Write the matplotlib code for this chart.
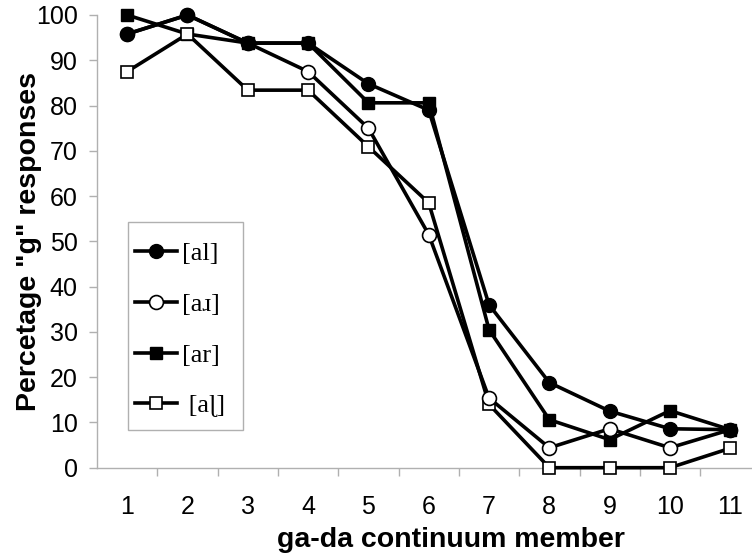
import numpy as np
import matplotlib
matplotlib.use("Agg")
import matplotlib.pyplot as plt
from matplotlib.patches import Rectangle

# ------------------------------
# Данные
# ------------------------------
members = np.arange(1, 12)
al_vals = [95.8, 100, 93.8, 93.8, 84.8, 79.0, 36.0, 18.8, 12.5, 8.6, 8.4]
ar_retro_vals = [95.8, 100, 93.8, 87.5, 75.0, 51.5, 15.4, 4.4, 8.6, 4.4, 8.4]
ar_vals = [100, 95.8, 93.8, 93.8, 80.6, 80.6, 30.5, 10.6, 6.2, 12.6, 8.4]
al_retro_vals = [87.5, 95.8, 83.4, 83.4, 70.9, 58.5, 14.0, 0, 0, 0, 4.3]
labels = ["[al]", "[a\u0279]", "[ar]", " [a\u026d]"]

plt.rcParams['font.family'] = ['Liberation Sans', 'DejaVu Sans']

W, H = 752, 556
fig = plt.figure(figsize=(W / 100, H / 100), dpi=100)
ax = fig.add_axes([97 / W, 88.3 / H, (W - 97) / W, (467.7 - 15) / H])

lw = 2.6
h1, = ax.plot(members, al_vals, color='black', lw=lw, marker='o', ms=10,
              mfc='black', mec='black', zorder=6, clip_on=False)
h2, = ax.plot(members, ar_retro_vals, color='black', lw=lw, marker='o', ms=10,
              mfc='white', mec='black', mew=1.2, zorder=5, clip_on=False)
h3, = ax.plot(members, ar_vals, color='black', lw=lw, marker='s', ms=8,
              mfc='black', mec='black', zorder=3, clip_on=False)
h4, = ax.plot(members, al_retro_vals, color='black', lw=lw, marker='s', ms=8,
              mfc='white', mec='black', mew=1.2, zorder=4, clip_on=False)

ax.set_ylim(0, 100)
ax.set_xlim(0.5, 11.36)
ax.set_yticks(np.arange(0, 101, 10))
ax.set_xticks(members)
ax.set_xticks(np.arange(1.5, 11, 1), minor=True)
ax.tick_params(axis='x', which='major', length=0, pad=20, labelsize=18)
ax.tick_params(axis='x', which='minor', length=6, color='#b0b0b0', width=1)
ax.tick_params(axis='y', length=6, color='#b0b0b0', width=1, labelsize=18, pad=8)

for s in ['top', 'right']:
    ax.spines[s].set_visible(False)
for s in ['left', 'bottom']:
    ax.spines[s].set_color('#b0b0b0')
    ax.spines[s].set_linewidth(1)

ax.set_xlabel("ga-da continuum member", fontsize=20.5, fontweight='bold')
ax.xaxis.set_label_coords((451 - 97) / (W - 97), -(540 - 467.7) / (467.7 - 15))
ax.xaxis.label.set_va('center')
ax.set_ylabel('Percetage "g" responses', fontsize=20.5, fontweight='bold')
ax.yaxis.set_label_coords(-(97 - 29) / (W - 97), 0.5)
ax.yaxis.label.set_va('center')

# рамка легенды
fig.patches.append(Rectangle((128 / W, 1 - 430 / H), (243 - 128) / W, (430 - 222) / H,
                             transform=fig.transFigure, facecolor='white',
                             edgecolor='#b0b0b0', lw=1, zorder=0))

leg = fig.legend([h1, h2, h3, h4], labels, loc='upper left',
                 bbox_to_anchor=(135 / W, 1 - 242 / H),
                 prop={'family': ['Liberation Serif', 'DejaVu Serif'], 'size': 19},
                 frameon=False, handlelength=1.6, handletextpad=0.2,
                 labelspacing=1.03, borderpad=0, borderaxespad=0)

fig.savefig("out.png", dpi=100)
